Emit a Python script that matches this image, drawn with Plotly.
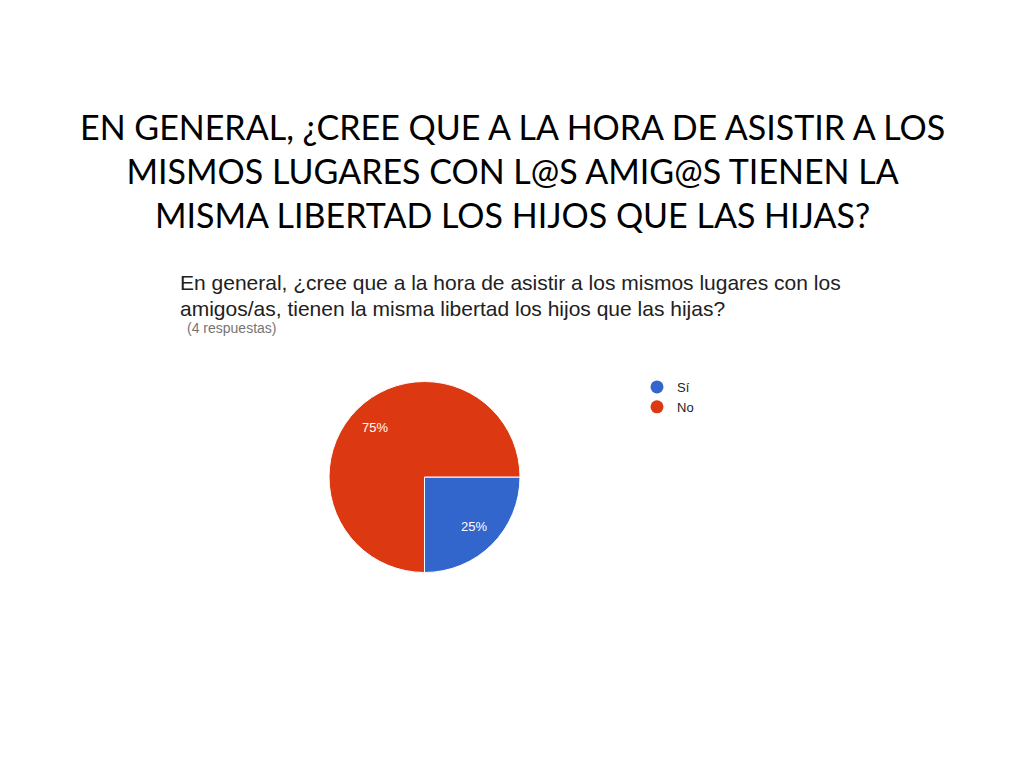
import math
import plotly.graph_objects as go

# Google Forms style pie pasted into a slide

slide_title = ("EN GENERAL, ¿CREE QUE A LA HORA DE ASISTIR A LOS<br>"
               "MISMOS LUGARES CON L@S AMIG@S TIENEN LA<br>"
               "MISMA LIBERTAD LOS HIJOS QUE LAS HIJAS?")
question_lines = ["En general, ¿cree que a la hora de asistir a los mismos lugares con los",
                  "amigos/as, tienen la misma libertad los hijos que las hijas?"]
responses_note = "(4 respuestas)"

answers = ["Sí", "No"]
counts = [1, 3]
answer_colors = ["#3366cc", "#dc3912"]

W, H = 1024, 768
cx, cy, r = 424.5, 477, 95.5   # pie centre / radius in px

fig = go.Figure()

fig.add_trace(go.Pie(
    labels=answers,
    values=counts,
    sort=False,
    direction="clockwise",
    rotation=90,
    marker=dict(colors=answer_colors, line=dict(color="white", width=1)),
    textinfo="none",
    showlegend=False,
    hoverinfo="label+percent",
    domain=dict(x=[(cx - r) / W, (cx + r) / W],
                y=[1 - (cy + r) / H, 1 - (cy - r) / H]),
))

# percent labels sit at a fixed radius like Google Charts does
total = sum(counts)
start = 90.0  # degrees clockwise from 12 o'clock
for v in counts:
    sweep = 360.0 * v / total
    mid = math.radians(start + sweep / 2)
    tx = cx + 0.73 * r * math.sin(mid)
    ty = cy - 0.73 * r * math.cos(mid)
    fig.add_annotation(
        text=f"{round(100 * v / total)}%", x=tx / W, y=1 - ty / H,
        xref="paper", yref="paper", showarrow=False,
        xanchor="center", yanchor="middle",
        font=dict(family="Arial", size=13, color="white"),
    )
    start += sweep

# circle markers for the legend, like the Forms summary
for name, col in zip(answers, answer_colors):
    fig.add_trace(go.Scatter(
        x=[None], y=[None], mode="markers", name=name,
        marker=dict(color=col, size=13, symbol="circle"),
    ))

fig.add_annotation(
    text=slide_title, x=0.5, y=1 - 104 / H, xref="paper", yref="paper",
    xanchor="center", yanchor="top", showarrow=False, align="center",
    font=dict(family="Lato", size=34, color="black"),
)
# question lines placed one by one to keep the tight spacing of the screenshot
for i, line in enumerate(question_lines):
    fig.add_annotation(
        text=line, x=178 / W, y=1 - (283 + 25 * i) / H, xref="paper", yref="paper",
        xanchor="left", yanchor="middle", showarrow=False, align="left",
        font=dict(family="Liberation Sans", size=21, color="#212121"),
    )
fig.add_annotation(
    text=responses_note, x=185 / W, y=1 - 328 / H, xref="paper", yref="paper",
    xanchor="left", yanchor="middle", showarrow=False, align="left",
    font=dict(family="Liberation Sans", size=14, color="#757575"),
)

fig.update_layout(
    width=W, height=H,
    margin=dict(l=0, r=0, t=0, b=0),
    paper_bgcolor="white",
    plot_bgcolor="white",
    xaxis=dict(visible=False),
    yaxis=dict(visible=False),
    legend=dict(
        x=637 / W, y=1 - 372 / H, xanchor="left", yanchor="top",
        font=dict(family="Liberation Sans", size=13, color="#222222"),
        bgcolor="rgba(0,0,0,0)", tracegroupgap=0,
    ),
)

fig.write_html("out.html", config=dict(displayModeBar=False),
               post_script="document.body.style.margin = '0';")
